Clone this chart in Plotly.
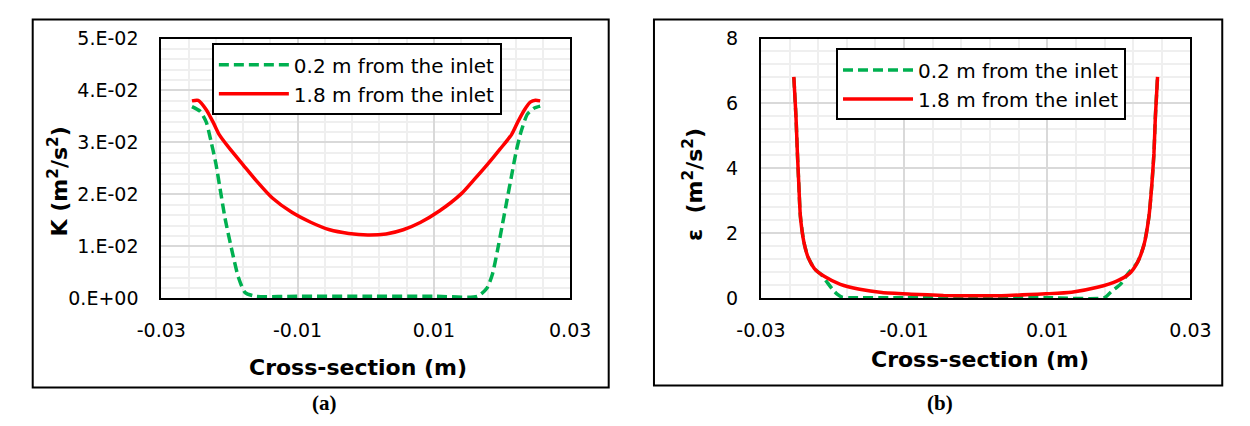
import plotly.graph_objects as go

W, H = 1250, 426

# ---------------- data ----------------
# Panel (a): turbulent kinetic energy K (m2/s2)
k02_x = [-0.0255, -0.0243, -0.0234, -0.0227, -0.0220, -0.0213, -0.0206, -0.0196, -0.0187,
         -0.0177, -0.0161, -0.010, 0.0, 0.010, 0.0164, 0.0178, 0.0186, 0.0193, 0.0200,
         0.0207, 0.0214, 0.0221, 0.0228, 0.0237, 0.0247, 0.0256]
k02_y = [0.0369, 0.0360, 0.0339, 0.0302, 0.0260, 0.0205, 0.0151, 0.0090, 0.0041,
         0.0011, 0.0004, 0.0004, 0.0004, 0.0004, 0.0004, 0.0020, 0.0047, 0.0090, 0.0138,
         0.0187, 0.0236, 0.0284, 0.0321, 0.0354, 0.0366, 0.0370]

k18_x = [-0.0255, -0.0246, -0.0234, -0.0224, -0.0215, -0.0199, -0.0180, -0.0161, -0.0137,
         -0.0109, -0.0080, -0.0053, -0.0025, 0.0003, 0.0030, 0.0055, 0.0080, 0.0108,
         0.0140, 0.0160, 0.0178, 0.0197, 0.0214, 0.0223, 0.0233, 0.0242, 0.0249, 0.0256]
k18_y = [0.0380, 0.0381, 0.0363, 0.0339, 0.0315, 0.0287, 0.0257, 0.0227, 0.0193,
         0.0166, 0.0146, 0.0132, 0.0125, 0.0122, 0.0124, 0.0132, 0.0146, 0.0168,
         0.0201, 0.0230, 0.0257, 0.0287, 0.0315, 0.0339, 0.0363, 0.0378, 0.0381, 0.0380]

# Panel (b): dissipation rate epsilon
e02_x = [-0.0254, -0.0251, -0.0249, -0.0247, -0.02448, -0.0240, -0.0234, -0.0225, -0.0215,
         -0.0207, -0.0200, -0.0193, -0.0187, -0.0178, -0.010, 0.0, 0.010, 0.0180, 0.0189,
         0.0202, 0.0213, 0.0226, 0.0235, 0.0242, 0.0246, 0.0249, 0.0251, 0.0254]
e02_y = [6.80, 5.6, 4.47, 3.49, 2.52, 1.74, 1.26, 0.91, 0.72,
         0.48, 0.28, 0.12, 0.04, 0.02, 0.02, 0.02, 0.02, 0.02, 0.20,
         0.43, 0.77, 1.11, 1.64, 2.52, 3.49, 4.47, 5.6, 6.80]

e18_x = [-0.0254, -0.0251, -0.0249, -0.0247, -0.02448, -0.0240, -0.0234, -0.0225, -0.0211,
         -0.0189, -0.0162, -0.0131, -0.0090, -0.0045, 0.0, 0.0045, 0.0098, 0.0134, 0.0170,
         0.0197, 0.0215, 0.0226, 0.0235, 0.0242, 0.0246, 0.0249, 0.0251, 0.0254]
e18_y = [6.82, 5.6, 4.47, 3.49, 2.52, 1.74, 1.26, 0.91, 0.67,
         0.43, 0.28, 0.18, 0.13, 0.09, 0.08, 0.09, 0.14, 0.19, 0.34,
         0.53, 0.77, 1.11, 1.64, 2.52, 3.49, 4.47, 5.6, 6.82]

series_names = ["0.2 m from the inlet", "1.8 m from the inlet"]
x_tick_vals = [-0.03, -0.01, 0.01, 0.03]
x_tick_text = ["-0.03", "-0.01", "0.01", "0.03"]
k_tick_vals = [0, 0.01, 0.02, 0.03, 0.04, 0.05]
k_tick_text = ["0.E+00", "1.E-02", "2.E-02", "3.E-02", "4.E-02", "5.E-02"]
e_tick_vals = [0, 2, 4, 6, 8]
e_tick_text = ["0", "2", "4", "6", "8"]

# ---------------- styling ----------------
FONT = "DejaVu Sans"
GREEN = "#00b050"
RED = "#ff0000"

def px(x):
    return x / W

def py(y):
    return 1 - y / H

fig = go.Figure()

green_line = dict(color=GREEN, width=3.5, dash="10px,5px", shape="spline", smoothing=0.6)
red_line = dict(color=RED, width=3.5, shape="spline", smoothing=0.6)

fig.add_trace(go.Scatter(x=k02_x, y=k02_y, mode="lines", name=series_names[0],
                         line=green_line, xaxis="x", yaxis="y", legend="legend"))
fig.add_trace(go.Scatter(x=k18_x, y=k18_y, mode="lines", name=series_names[1],
                         line=red_line, xaxis="x", yaxis="y", legend="legend"))
fig.add_trace(go.Scatter(x=e02_x, y=e02_y, mode="lines", name=series_names[0],
                         line=green_line, xaxis="x2", yaxis="y2", legend="legend2"))
fig.add_trace(go.Scatter(x=e18_x, y=e18_y, mode="lines", name=series_names[1],
                         line=red_line, xaxis="x2", yaxis="y2", legend="legend2"))

ydom = [py(303), py(29)]
common_x = dict(range=[-0.03, 0.03], tickmode="array", tickvals=x_tick_vals, ticktext=x_tick_text,
                showgrid=True, gridcolor="#d9d9d9", gridwidth=1.5, zeroline=False,
                showline=True, linecolor="black", linewidth=2, mirror=True, ticks="",
                ticklabelstandoff=14,
                tickfont=dict(family=FONT, size=19, color="black"),
                minor=dict(tickmode="linear", tick0=-0.03, dtick=0.004, showgrid=True,
                           gridcolor="#efefef", gridwidth=1.5))
common_y = dict(showgrid=True, gridcolor="#d9d9d9", gridwidth=1.5, zeroline=False,
                showline=True, linecolor="black", linewidth=2, mirror=True, ticks="",
                ticklabelstandoff=17,
                tickfont=dict(family=FONT, size=19, color="black"), domain=ydom)

fig.update_layout(
    width=W, height=H,
    margin=dict(l=0, r=0, t=0, b=0),
    paper_bgcolor="white", plot_bgcolor="white",
    xaxis=dict(domain=[px(141.5), px(566)], anchor="y", **common_x),
    yaxis=dict(anchor="x", range=[0, 0.05], tickmode="array", tickvals=k_tick_vals,
               ticktext=k_tick_text,
               minor=dict(tickmode="linear", tick0=0, dtick=0.002, showgrid=True,
                          gridcolor="#efefef", gridwidth=1.5),
               **common_y),
    xaxis2=dict(domain=[px(764), px(1210)], anchor="y2", **common_x),
    yaxis2=dict(anchor="x2", range=[0, 8], tickmode="array", tickvals=e_tick_vals,
                ticktext=e_tick_text,
                minor=dict(tickmode="linear", tick0=0, dtick=0.4, showgrid=True,
                           gridcolor="#efefef", gridwidth=1.5),
                **common_y),
    legend=dict(x=px(194), y=py(34), xanchor="left", yanchor="top",
                bgcolor="white", bordercolor="black", borderwidth=2,
                font=dict(family=FONT, size=20, color="black"), itemwidth=70),
    legend2=dict(x=px(842), y=py(39.5), xanchor="left", yanchor="top",
                 bgcolor="white", bordercolor="black", borderwidth=2,
                 font=dict(family=FONT, size=20, color="black"), itemwidth=70),
    showlegend=True,
)

# outer frames of the two panels
fig.add_shape(type="rect", xref="paper", yref="paper", x0=px(8), x1=px(606), y0=py(397), y1=py(9),
              line=dict(color="black", width=2), layer="below")
fig.add_shape(type="rect", xref="paper", yref="paper", x0=px(653), x1=px(1243), y0=py(395), y1=py(9),
              line=dict(color="black", width=2), layer="below")

title_font = dict(family=FONT, size=22, color="black")
annos = [
    dict(text="<b>Cross-section (m)</b>", x=px(346), y=py(376), font=title_font),
    dict(text="<b>Cross-section (m)</b>", x=px(992), y=py(367), font=title_font),
    dict(text="<b>K (m<sup>2</sup>/s<sup>2</sup>)</b>", x=px(34), y=py(180), font=title_font, textangle=-90),
    dict(text="<b>ε  (m<sup>2</sup>/s<sup>2</sup>)</b>", x=px(693), y=py(183), font=title_font, textangle=-90),
    dict(text="<b>(a)</b>", x=px(311), y=py(413), font=dict(family="Liberation Serif", size=21, color="black")),
    dict(text="<b>(b)</b>", x=px(950), y=py(413), font=dict(family="Liberation Serif", size=21, color="black")),
]
for a in annos:
    fig.add_annotation(xref="paper", yref="paper", xanchor="center", yanchor="middle",
                       showarrow=False, **a)

fig.write_html("out.html")
